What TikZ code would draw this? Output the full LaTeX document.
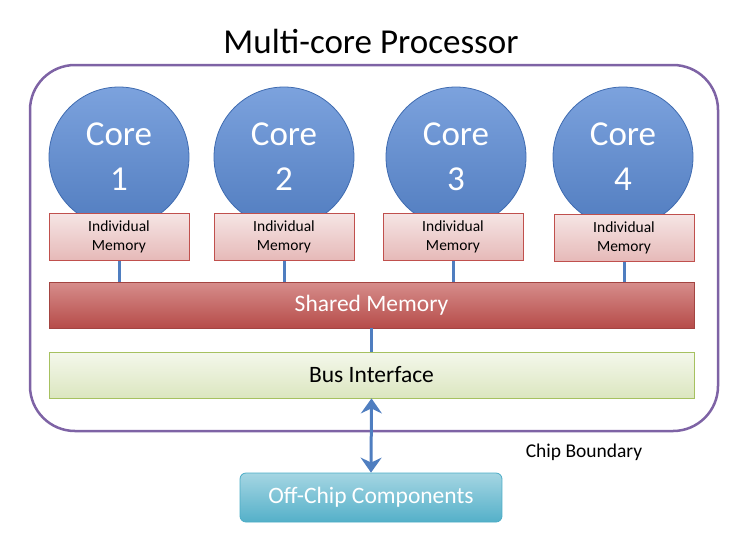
\documentclass[tikz,border=0pt]{standalone}
\usepackage{fontspec}
\setmainfont{Carlito}
\usetikzlibrary{positioning, arrows.meta}

\definecolor{coreblue}{HTML}{5B8BD5}
\definecolor{coreedge}{HTML}{3F6BB0}
\definecolor{linkblue}{HTML}{4F7EC0}
\definecolor{chippurple}{HTML}{7E63A5}
\definecolor{memedge}{HTML}{C0504D}
\definecolor{busedge}{HTML}{A6C160}
\definecolor{offedge}{HTML}{4BACC6}

\begin{document}
\begin{tikzpicture}[x=1pt, y=-1pt,
    core/.style={circle, draw=coreedge, thick, minimum size=140pt, inner sep=0pt,
        top color=coreblue!80!white, bottom color=coreblue!90!black, text=white,
        align=center, font=\fontsize{35}{45}\selectfont},
    indmem/.style={rectangle, draw=memedge, thick, minimum width=140pt, minimum height=47pt,
        inner sep=1pt, top color=memedge!15!white, bottom color=memedge!40!white,
        align=center, font=\fontsize{15.5}{19}\selectfont},
    bar/.style={rectangle, thick, minimum width=645pt, minimum height=46pt,
        font=\fontsize{23.5}{28}\selectfont},
    link/.style={draw=linkblue, line width=3pt}]
\useasboundingbox (0,0) rectangle (746,542);

% chip and title
\draw[chippurple, line width=2.5pt, rounded corners=45pt] (30,65) rectangle (718,431);
\node[font=\fontsize{35}{40}\selectfont] (title) at (371,41) {Multi-core Processor};
\node[font=\fontsize{19.5}{22}\selectfont] (boundary) at (584,452) {Chip Boundary};

% cores
\node[core] (core1) at (119,157) {Core\\1};
\node[core] (core2) at (284,157) {Core\\2};
\node[core] (core3) at (456,157) {Core\\3};
\node[core] (core4) at (623,157) {Core\\4};

% individual memories
\node[indmem] (mem1) at (119,237) {Individual\\Memory};
\node[indmem] (mem2) at (284,237) {Individual\\Memory};
\node[indmem] (mem3) at (453,237) {Individual\\Memory};
\node[indmem] (mem4) at (624,238) {Individual\\Memory};

% shared memory and bus
\node[bar, draw=memedge!85!black, top color=memedge!65!white, bottom color=memedge!95!black,
    text=white] (shared) at (371.5,305) {Shared Memory};
\node[bar, draw=busedge, top color=busedge!12!white, bottom color=busedge!40!white]
    (bus) at (371.5,375) {Bus Interface};
\node[rectangle, rounded corners=6pt, draw=offedge, thick, minimum width=262pt, minimum height=49pt,
    top color=offedge!50!white, bottom color=offedge!95!white, text=white,
    font=\fontsize{23.5}{28}\selectfont] (offchip) at (371,497.5) {Off-Chip Components};

% links
\draw[link] (mem1.south) -- (mem1.south |- shared.north);
\draw[link] (mem2.south) -- (mem2.south |- shared.north);
\draw[link] (mem3.south) -- (mem3.south |- shared.north);
\draw[link] (mem4.south) -- (mem4.south |- shared.north);
\draw[link] (shared.south) -- (bus.north);
\draw[link, {Stealth[length=15pt, width=21pt, inset=5pt]}-{Stealth[length=15pt, width=21pt, inset=5pt]}]
    (bus.south) -- (offchip.north);

\end{tikzpicture}
\end{document}
